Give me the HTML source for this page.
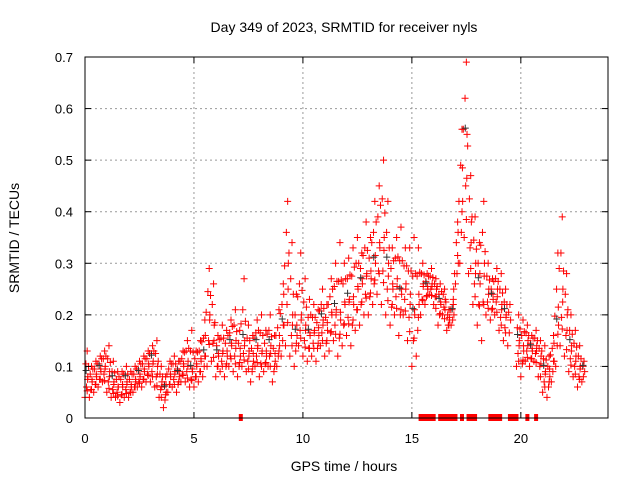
<!DOCTYPE html>
<html><head><meta charset="utf-8"><style>
body{margin:0;background:#fff;}
svg{display:block;font-family:"Liberation Sans",sans-serif;}
</style></head><body>
<svg id="chart" width="640" height="480">
<text x="344" y="32" font-size="14" text-anchor="middle">Day 349 of 2023, SRMTID for receiver nyls</text>
<text x="344" y="471" font-size="14" text-anchor="middle">GPS time / hours</text>
<text transform="translate(19,238) rotate(-90)" font-size="14" text-anchor="middle">SRMTID / TECUs</text>
<g id="grid"></g><g id="marks"></g><g id="axes"></g>
</svg>
<script>
const times = [];
const lo  = [.04,.04,.05,.06,.07,.05,.04,.04,.03,.04,.04,.05,.06,.06,.07,.07,.06,.04,.02,.05,.06,.05,.07,.07,.06,.06,.07,.08,.10,.11,.08,.09,.08,.10,.09,.08,.10,.09,.07,.10,.08,.09,.10,.07,.10,.12,.14,.12,.10,.14,.12,.11,.12,.11,.14,.12,.13,.15,.12,.14,.16,.14,.17,.18,.20,.20,.22,.24,.22,.20,.18,.20,.16,.20,.15,.10,.12,.20,.22,.24,.22,.18,.20,.17,.18,.26,.30,.35,.28,.22,.18,.15,.20,.19,.20,.17,.15,.14,null,.10,.08,.11,.10,.11,.08,.05,.04,.07,.10,.14,.12,.09,.08,.06,.07];
const mid = [.08,.07,.08,.09,.10,.09,.07,.06,.06,.07,.06,.07,.08,.09,.10,.11,.10,.07,.05,.08,.09,.08,.10,.11,.09,.10,.11,.12,.20,.18,.12,.13,.12,.14,.15,.12,.15,.13,.11,.14,.13,.12,.14,.11,.14,.18,.30,.20,.16,.20,.18,.16,.17,.16,.19,.17,.20,.21,.19,.22,.23,.22,.25,.26,.28,.27,.30,.33,.35,.30,.25,.27,.24,.26,.24,.20,.22,.26,.25,.26,.25,.22,.23,.19,.20,.30,.42,.55,.38,.30,.26,.30,.25,.23,.25,.22,.20,.19,null,.15,.13,.15,.13,.14,.12,.09,.08,.11,.18,.25,.20,.14,.12,.10,.09];
const hi  = [.13,.10,.11,.12,.13,.14,.11,.09,.09,.10,.09,.10,.11,.12,.13,.14,.15,.10,.08,.11,.12,.11,.13,.15,.17,.13,.15,.19,.29,.26,.16,.18,.17,.19,.21,.17,.27,.18,.16,.19,.20,.17,.20,.16,.21,.26,.42,.34,.24,.32,.27,.23,.22,.21,.25,.22,.27,.30,.34,.30,.31,.33,.35,.32,.38,.35,.42,.45,.50,.42,.33,.35,.37,.33,.33,.35,.33,.30,.28,.29,.27,.26,.25,.21,.22,.38,.56,.69,.47,.39,.34,.42,.30,.27,.29,.28,.25,.22,null,.20,.19,.18,.16,.17,.15,.14,.12,.16,.32,.39,.28,.20,.17,.14,.11];
for (let i = 0; i < lo.length; i++) times.push(+(i * 0.2).toFixed(1));
const zeroTimes = [7.15,15.4,15.55,15.7,15.85,16.0,16.3,16.45,16.6,16.75,16.9,17.0,17.3,17.6,17.75,17.9,18.6,18.75,18.9,19.05,19.5,19.65,19.8,20.3,20.7];
const xTicks = [0,5,10,15,20];
const yTicks = [0,0.1,0.2,0.3,0.4,0.5,0.6,0.7];
const yTickLabels = ["0","0.1","0.2","0.3","0.4","0.5","0.6","0.7"];

const L=85,R=608,T=57,B=418;
const xs = t => L + t/24*(R-L);
const ys = v => B - v/0.7*(B-T);
const NS="http://www.w3.org/2000/svg";
function mk(tag, parent, attrs){const e=document.createElementNS(NS,tag);for(const k in attrs)e.setAttribute(k,attrs[k]);parent.appendChild(e);return e;}
const grid=document.getElementById('grid'), marks=document.getElementById('marks'), axes=document.getElementById('axes');

xTicks.forEach(t=>{
  const x=xs(t);
  if(t>0){const g=mk('line',grid,{x1:x,x2:x,y1:T,y2:B,stroke:'#999','stroke-dasharray':'2,3','stroke-width':1});
  
  }
  mk('line',axes,{x1:x,x2:x,y1:B,y2:B-6,stroke:'#000'});
  mk('line',axes,{x1:x,x2:x,y1:T,y2:T+6,stroke:'#000'});
  const tx=mk('text',axes,{x:x,y:B+25,'font-size':13,'text-anchor':'middle'});
  tx.textContent=t;
  
  
});
yTicks.forEach((v,i)=>{
  const y=ys(v);
  if(v>0&&v<0.7){const g=mk('line',grid,{x1:L,x2:R,y1:y,y2:y,stroke:'#999','stroke-dasharray':'2,3','stroke-width':1});
  
  }
  mk('line',axes,{x1:L,x2:L+6,y1:y,y2:y,stroke:'#000'});
  mk('line',axes,{x1:R,x2:R-6,y1:y,y2:y,stroke:'#000'});
  const tx=mk('text',axes,{x:L-12,y:y+5,'font-size':13,'text-anchor':'end'});
  tx.textContent=yTickLabels[i];
  
  
});
const border=mk('rect',axes,{x:L,y:T,width:R-L,height:B-T,fill:'none',stroke:'#000'});



function cross(t,v,color){
  const x=xs(t),y=ys(v);
  const p=mk('path',marks,{d:`M${x-3.5},${y}h7M${x},${y-3.5}v7`,stroke:color,'stroke-width':1,fill:'none'});
  
  
}
// dense cloud: for each time step, fill between lo and hi
lo.forEach((l,i)=>{
  if(l===null)return;
  const m=mid[i], h=hi[i];
  const t=times[i];
  const vals=[l,(l+m)/2,m,(m+h)/2,h];
  const offs=[0,0.07,0.13,0.04,0.1];
  vals.forEach((v,k)=>cross(t+offs[k],v,'#f00'));
  if(i<lo.length-1 && lo[i+1]!==null){
    const l2=(l+lo[i+1])/2, m2=(m+mid[i+1])/2, h2=(h+hi[i+1])/2;
    cross(t+0.1,(l2+m2)/2-0.005,'#f00');
    cross(t+0.16,(m2+h2)/2+0.005,'#f00');
    cross(t+0.12,m2,'#f00');
  }
  if(i%3===0) cross(t+0.05,m+0.012,'#333');
});
zeroTimes.forEach(t=>{
  const r=mk('rect',marks,{x:xs(t)-2,y:B-4,width:4,height:7,fill:'#f00'});
  
  
});
</script>
</body></html>
